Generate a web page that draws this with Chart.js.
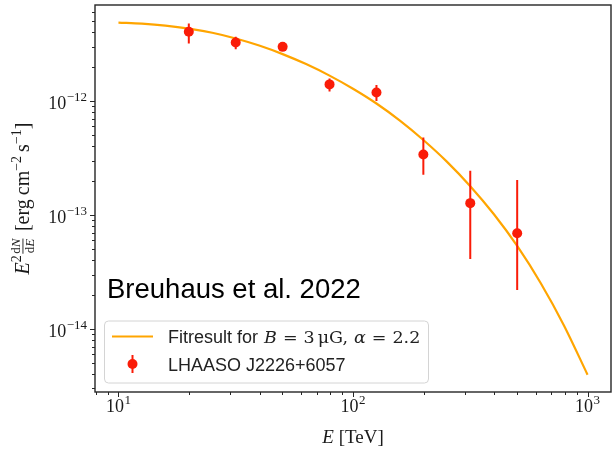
<!DOCTYPE html>
<html>
<head>
<meta charset="utf-8">
<script src="https://cdn.jsdelivr.net/npm/chart.js@4/dist/chart.umd.min.js"></script>
<style>
  html, body { margin: 0; padding: 0; background: #ffffff; }
  canvas { display: block; }
</style>
</head>
<body>
<canvas id="sed" width="616" height="449"></canvas>
<script>
// LHAASO J2226+6057 spectral points (E in TeV, E^2 dN/dE in erg cm^-2 s^-1)
const energyTeV = [19.95, 31.62, 50.12, 79.43, 125.9, 199.5, 316.2, 501.2];
const fluxLHAASO = [4.05e-12, 3.27e-12, 2.99e-12, 1.40e-12, 1.19e-12, 3.39e-13, 1.27e-13, 6.9e-14];
const fluxLow = [3.20e-12, 2.85e-12, 2.82e-12, 1.21e-12, 1.00e-12, 2.25e-13, 4.1e-14, 2.2e-14];
const fluxHigh = [4.79e-12, 3.66e-12, 3.18e-12, 1.58e-12, 1.38e-12, 4.78e-13, 2.45e-13, 2.03e-13];

// Model curve (B = 3 µG, alpha = 2.2)
const fitEnergyTeV = [10, 12.59, 15.85, 19.95, 25.12, 31.62, 39.81, 50.12, 63.10, 79.43, 100,
                      125.9, 158.5, 199.5, 251.2, 316.2, 398.1, 501.2, 631.0, 794.3, 1000];
const fitFlux = [4.887e-12, 4.775e-12, 4.592e-12, 4.325e-12, 3.972e-12, 3.540e-12, 3.069e-12,
                 2.582e-12, 2.109e-12, 1.671e-12, 1.282e-12, 9.51e-13, 6.73e-13, 4.55e-13,
                 2.94e-13, 1.79e-13, 1.02e-13, 5.35e-14, 2.53e-14, 1.067e-14, 3.96e-15];

// Axis ranges and decade tick labels
const xRange = [Math.pow(10, 0.9), Math.pow(10, 3.1)];
const yRange = [Math.pow(10, -14.554), Math.pow(10, -11.157)];
const xTickExponents = [1, 2, 3];
const yTickExponents = [-14, -13, -12];

const legendLabels = ['Fitresult for ', 'LHAASO J2226+6057'];
const annotationText = 'Breuhaus et al. 2022';

const SERIF = '"Liberation Serif", "DejaVu Serif", serif';
const MATH = '"DejaVu Serif", "Liberation Serif", serif';
const SANS = '"Liberation Sans", Arial, Helvetica, sans-serif';
const RED = 'rgb(250,28,8)';
const ORANGE = '#FFA500';

const pointData = energyTeV.map((e, i) => ({ x: e, y: fluxLHAASO[i] }));
const errorData = [];
energyTeV.forEach((e, i) => {
  errorData.push({ x: e, y: fluxLow[i] }, { x: e, y: fluxHigh[i] }, { x: e, y: null });
});
const fitData = fitEnergyTeV.map((e, i) => ({ x: e, y: fitFlux[i] }));

// Text runs: {t, f, dy, gap}; fraction runs carry their own width and draw()
function runsWidth(ctx, runs) {
  let w = 0;
  for (const r of runs) {
    if (r.frac) { w += r.w; continue; }
    ctx.font = r.f; w += ctx.measureText(r.t).width + (r.gap || 0);
  }
  return w;
}
function drawRuns(ctx, runs, x, y) {
  let cx = x;
  for (const r of runs) {
    if (r.frac) { r.draw(ctx, cx, y); cx += r.w; continue; }
    ctx.font = r.f;
    ctx.fillText(r.t, cx, y + (r.dy || 0));
    cx += ctx.measureText(r.t).width + (r.gap || 0);
  }
  return cx;
}
function powerRuns(exp) {
  const e = exp < 0 ? '\u2212' + Math.abs(exp) : String(exp);
  return [
    { t: '10', f: '18px ' + SERIF, gap: 0.5 },
    { t: e, f: '13px ' + SERIF, dy: -8 }
  ];
}

const decorPlugin = {
  id: 'decor',
  afterDatasetsDraw(chart) {
    const ctx = chart.ctx;
    const area = chart.chartArea;
    const xs = chart.scales.x;
    const ys = chart.scales.y;
    ctx.save();
    ctx.textAlign = 'left';
    ctx.textBaseline = 'alphabetic';
    ctx.fillStyle = '#111';

    // axes frame
    ctx.strokeStyle = '#262626';
    ctx.lineWidth = 1.4;
    ctx.strokeRect(area.left, area.top, area.right - area.left, area.bottom - area.top);

    // log ticks (major + minor), outward on bottom and left
    ctx.lineWidth = 1;
    for (let n = 0; n <= 3; n++) {
      for (let k = 1; k <= 9; k++) {
        const v = k * Math.pow(10, n);
        if (v < xRange[0] || v > xRange[1]) continue;
        const px = Math.round(xs.getPixelForValue(v)) + 0.5;
        const len = k === 1 ? 5 : 3;
        ctx.beginPath(); ctx.moveTo(px, area.bottom); ctx.lineTo(px, area.bottom + len); ctx.stroke();
      }
    }
    for (let n = -15; n <= -12; n++) {
      for (let k = 1; k <= 9; k++) {
        const v = k * Math.pow(10, n);
        if (v < yRange[0] || v > yRange[1]) continue;
        const py = Math.round(ys.getPixelForValue(v)) + 0.5;
        const len = k === 1 ? 5 : 3;
        ctx.beginPath(); ctx.moveTo(area.left, py); ctx.lineTo(area.left - len, py); ctx.stroke();
      }
    }

    // tick labels
    ctx.fillStyle = '#1a1a1a';
    xTickExponents.forEach(ex => {
      const px = xs.getPixelForValue(Math.pow(10, ex));
      const runs = powerRuns(ex);
      const w = runsWidth(ctx, runs);
      drawRuns(ctx, runs, px - w / 2, area.bottom + 20);
    });
    yTickExponents.forEach(ex => {
      const py = ys.getPixelForValue(Math.pow(10, ex));
      const runs = powerRuns(ex);
      const w = runsWidth(ctx, runs);
      drawRuns(ctx, runs, area.left - 8 - w, py + 8);
    });

    // x axis title
    const xt = [
      { t: 'E', f: 'italic 19px ' + SERIF, gap: 5 },
      { t: '[TeV]', f: '19px ' + SERIF }
    ];
    const xtw = runsWidth(ctx, xt);
    drawRuns(ctx, xt, (area.left + area.right) / 2 - xtw / 2, 443);

    // y axis title (rotated): E^2 dN/dE [erg cm^-2 s^-1]
    const fs = 13;
    const frac = {
      frac: true, w: 0,
      draw(c, x, y) {
        c.font = fs + 'px ' + SERIF;
        const wd = c.measureText('d').width;
        c.font = 'italic ' + fs + 'px ' + SERIF;
        const wN = c.measureText('N').width;
        const wE = c.measureText('E').width;
        const top = wd + wN, bot = wd + wE;
        const fw = Math.max(top, bot);
        const x0 = x + 1.5;
        c.font = fs + 'px ' + SERIF; c.fillText('d', x0 + (fw - top) / 2, y - 9);
        c.font = 'italic ' + fs + 'px ' + SERIF; c.fillText('N', x0 + (fw - top) / 2 + wd, y - 9);
        c.font = fs + 'px ' + SERIF; c.fillText('d', x0 + (fw - bot) / 2, y + 5);
        c.font = 'italic ' + fs + 'px ' + SERIF; c.fillText('E', x0 + (fw - bot) / 2 + wd, y + 5);
        c.fillRect(x0, y - 6.5, fw, 0.9);
      }
    };
    ctx.font = fs + 'px ' + SERIF;
    const fwd = ctx.measureText('d').width;
    ctx.font = 'italic ' + fs + 'px ' + SERIF;
    frac.w = fwd + Math.max(ctx.measureText('N').width, ctx.measureText('E').width) + 9;
    const yt = [
      { t: 'E', f: 'italic 20px ' + SERIF },
      { t: '2', f: '14px ' + SERIF, dy: -8 },
      frac,
      { t: '[erg', f: '20px ' + SERIF, gap: 4 },
      { t: 'cm', f: '20px ' + SERIF },
      { t: '\u22122', f: '14px ' + SERIF, dy: -8, gap: 4 },
      { t: 's', f: '20px ' + SERIF },
      { t: '\u22121', f: '14px ' + SERIF, dy: -8 },
      { t: ']', f: '20px ' + SERIF }
    ];
    const ytw = runsWidth(ctx, yt);
    ctx.save();
    ctx.translate(29, (area.top + area.bottom) / 2);
    ctx.rotate(-Math.PI / 2);
    drawRuns(ctx, yt, -ytw / 2, 0);
    ctx.restore();

    // annotation
    ctx.fillStyle = '#000';
    ctx.font = '27.5px ' + SANS;
    ctx.fillText(annotationText, 107, 298);

    // legend box
    const lx = 104.5, ly = 321, lw = 324, lh = 62, r = 4;
    ctx.beginPath();
    ctx.moveTo(lx + r, ly);
    ctx.arcTo(lx + lw, ly, lx + lw, ly + lh, r);
    ctx.arcTo(lx + lw, ly + lh, lx, ly + lh, r);
    ctx.arcTo(lx, ly + lh, lx, ly, r);
    ctx.arcTo(lx, ly, lx + lw, ly, r);
    ctx.closePath();
    ctx.fillStyle = 'rgba(255,255,255,0.8)';
    ctx.fill();
    ctx.strokeStyle = '#d4d4d4';
    ctx.lineWidth = 1;
    ctx.stroke();

    // legend entry 1: model line
    ctx.strokeStyle = ORANGE;
    ctx.lineWidth = 2;
    ctx.beginPath(); ctx.moveTo(112, 336.5); ctx.lineTo(153, 336.5); ctx.stroke();
    ctx.fillStyle = '#222';
    const l1 = [
      { t: legendLabels[0], f: '18px ' + SANS, gap: 1 },
      { t: 'B', f: 'italic 17.5px ' + MATH, gap: 6 },
      { t: '=', f: '17.5px ' + MATH, gap: 6 },
      { t: '3', f: '17.5px ' + MATH, gap: 3 },
      { t: '\u03bcG,', f: '17.5px ' + MATH, gap: 6 },
      { t: '\u03b1', f: 'italic 17.5px ' + MATH, gap: 6 },
      { t: '=', f: '17.5px ' + MATH, gap: 6 },
      { t: '2.2', f: '17.5px ' + MATH }
    ];
    drawRuns(ctx, l1, 168, 343);

    // legend entry 2: data point with error bar
    ctx.strokeStyle = RED;
    ctx.lineWidth = 2;
    ctx.beginPath(); ctx.moveTo(132.5, 355); ctx.lineTo(132.5, 373); ctx.stroke();
    ctx.fillStyle = RED;
    ctx.beginPath(); ctx.arc(132.5, 364, 5, 0, Math.PI * 2); ctx.fill();
    ctx.fillStyle = '#222';
    ctx.font = '18px ' + SANS;
    ctx.fillText(legendLabels[1], 168, 370.5);

    ctx.restore();
  }
};

new Chart(document.getElementById('sed'), {
  type: 'line',
  data: {
    datasets: [
      {
        label: 'LHAASO J2226+6057',
        data: pointData,
        showLine: false,
        pointRadius: 5,
        pointHoverRadius: 5,
        pointBorderWidth: 0,
        pointBackgroundColor: RED,
        borderColor: RED
      },
      {
        label: 'errors',
        data: errorData,
        showLine: true,
        spanGaps: false,
        borderColor: RED,
        borderWidth: 2,
        pointRadius: 0,
        borderCapStyle: 'butt'
      },
      {
        label: 'Fitresult',
        data: fitData,
        borderColor: ORANGE,
        borderWidth: 2.2,
        pointRadius: 0,
        cubicInterpolationMode: 'monotone'
      }
    ]
  },
  options: {
    responsive: false,
    animation: false,
    devicePixelRatio: 1,
    events: [],
    layout: { padding: { left: 95, top: 5, right: 3, bottom: 57 } },
    plugins: { legend: { display: false }, tooltip: { enabled: false } },
    scales: {
      x: { type: 'logarithmic', min: xRange[0], max: xRange[1], bounds: 'data', display: false },
      y: { type: 'logarithmic', min: yRange[0], max: yRange[1], bounds: 'data', display: false }
    }
  },
  plugins: [decorPlugin]
});
</script>
</body>
</html>
